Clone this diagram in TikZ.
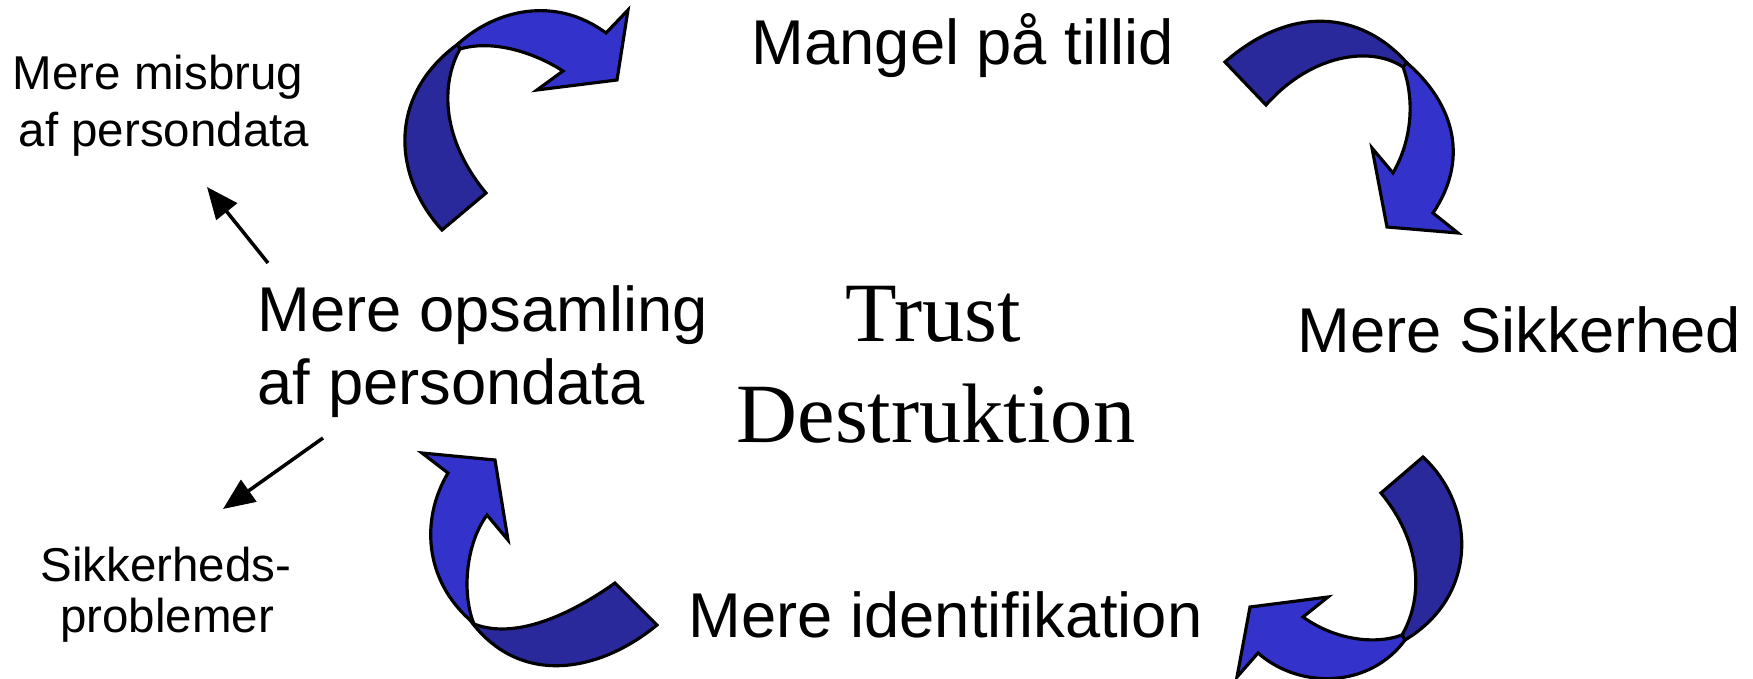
\documentclass[tikz,border=0pt]{standalone}
\usepackage{fontspec}
\setmainfont{Liberation Sans}
\newfontfamily\trustfont{Liberation Serif}
\usetikzlibrary{arrows.meta}
\definecolor{ribbonlight}{RGB}{51,51,204}
\definecolor{ribbondark}{RGB}{41,41,155}
\tikzset{
  ribbonback/.style={fill=ribbondark, draw=black, line width=0.9pt, line join=miter},
  ribbonfront/.style={fill=ribbonlight, draw=black, line width=0.9pt, line join=miter},
  bigtext/.style={font=\fontsize{18}{21.6}\selectfont, inner sep=0pt, anchor=base west},
  smalltext/.style={font=\fontsize{13.5}{16}\selectfont, inner sep=0pt, anchor=base},
  titletext/.style={font=\trustfont\fontsize{24}{28}\selectfont, inner sep=0pt, anchor=base},
  pointer/.style={line width=1pt, -{Triangle[length=9pt,width=7.5pt]}}
}
\begin{document}
\begin{tikzpicture}[x=0.01cm, y=-0.01cm]
\useasboundingbox (0,0) rectangle (1753,679);

% ---- cycle arrows (twisted ribbons) ----
% top left
\path[ribbonback] (442,230) .. controls (392,175) and (388,95) .. (458,44)
  -- (460,49) .. controls (440,85) and (442,140) .. (486,193) -- cycle;
\path[ribbonfront] (458,44) .. controls (495,10) and (555,-5) .. (606,33)
  -- (628,10) -- (617,80) -- (537,90) -- (563,71)
  .. controls (530,50) and (490,40) .. (460,49) -- cycle;

% top right
\path[ribbonback] (1225,62) .. controls (1290,5) and (1360,10) .. (1407,63)
  -- (1403,67) .. controls (1370,45) and (1310,55) .. (1266,105) -- cycle;
\path[ribbonfront] (1407,63) .. controls (1450,100) and (1472,155) .. (1433,213)
  -- (1458,233) -- (1387,227) -- (1372,148) -- (1393,173)
  .. controls (1412,140) and (1415,100) .. (1403,67) -- cycle;

% bottom right
\path[ribbonback] (1423,457) .. controls (1475,505) and (1480,595) .. (1405,640)
  -- (1402,635) .. controls (1425,595) and (1420,540) .. (1381,493) -- cycle;
\path[ribbonfront] (1405,640) .. controls (1370,688) and (1300,690) .. (1258,653)
  -- (1237,677) -- (1250,607) -- (1328,597) -- (1303,617)
  .. controls (1335,640) and (1375,645) .. (1402,635) -- cycle;

% bottom left
\path[ribbonback] (657,625) .. controls (600,672) and (520,688) .. (470,620)
  -- (474,624) .. controls (515,640) and (570,615) .. (615,583) -- cycle;
\path[ribbonfront] (470,620) .. controls (425,580) and (420,520) .. (448,473)
  -- (422,453) -- (495,460) -- (508,540) -- (487,515)
  .. controls (465,545) and (462,595) .. (474,624) -- cycle;

% ---- labels ----
\node[bigtext] (tillid) at (751,65) {Mangel på tillid};
\node[bigtext] (sikkerhed) at (1297,353) {Mere Sikkerhed};
\node[bigtext] (opsamling1) at (257,332) {Mere opsamling};
\node[bigtext] (opsamling2) at (257,405) {af persondata};
\node[bigtext] (identifikation) at (688,637) {Mere identifikation};

\node[titletext] (trust) at (933,342) {Trust};
\node[titletext] (destruktion) at (936,443) {Destruktion};

\node[smalltext] (misbrug1) at (158,90) {Mere misbrug};
\node[smalltext] (misbrug2) at (164,147) {af persondata};
\node[smalltext] (problem1) at (166,581) {Sikkerheds-};
\node[smalltext] (problem2) at (167,633) {problemer};

% ---- side effects ----
\coordinate (misbrugTail) at (268,263);
\coordinate (misbrugTip) at (207,187);
\coordinate (problemTail) at (323,438);
\coordinate (problemTip) at (223,509);
\draw[pointer] (misbrugTail) -- (misbrugTip);
\draw[pointer] (problemTail) -- (problemTip);
\end{tikzpicture}
\end{document}
